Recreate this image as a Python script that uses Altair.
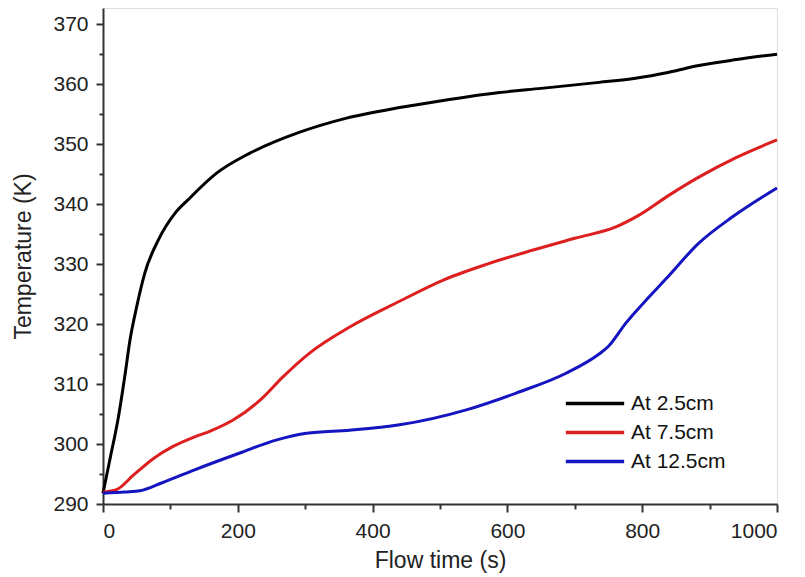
import altair as alt
import pandas as pd

# --- data ---
series_names = ["At 2.5cm", "At 7.5cm", "At 12.5cm"]
series_colors = ["#000000", "#dd1f1f", "#1414c0"]

x_25 = [0, 10, 23, 33, 40, 50, 62, 82, 107, 126, 169, 218, 292, 360, 440, 500, 588, 650, 736, 790, 840, 884, 940, 1000]
y_25 = [291.8, 297.3, 304.6, 311.8, 317.3, 322.9, 328.5, 334.0, 338.5, 340.7, 345.2, 348.5, 352.0, 354.3, 356.1, 357.2, 358.6, 359.3, 360.3, 361.0, 362.0, 363.1, 364.1, 365.0]

x_75 = [0, 20, 45, 75, 104, 136, 160, 193, 233, 267, 307, 366, 440, 504, 570, 637, 700, 761, 796, 840, 884, 940, 1000]
y_75 = [292.0, 292.4, 294.8, 297.6, 299.6, 301.2, 302.2, 304.0, 307.3, 311.2, 315.2, 319.5, 323.8, 327.3, 330.0, 332.3, 334.3, 336.2, 338.2, 341.5, 344.5, 347.8, 350.7]

x_125 = [0, 33, 55, 87, 136, 203, 258, 302, 366, 440, 539, 613, 687, 736, 750, 776, 810, 835, 884, 933, 1000]
y_125 = [291.8, 292.0, 292.2, 293.5, 295.7, 298.5, 300.7, 301.8, 302.3, 303.2, 305.7, 308.5, 311.8, 315.0, 316.3, 320.2, 324.5, 327.5, 333.5, 337.8, 342.7]

x_major = [0, 200, 400, 600, 800, 1000]
x_minor = [100, 300, 500, 700, 900]
y_major = [290, 300, 310, 320, 330, 340, 350, 360, 370]
y_minor = [295, 305, 315, 325, 335, 345, 355, 365]

rows = []
for name, xs, ys in zip(series_names, [x_25, x_75, x_125], [y_25, y_75, y_125]):
    for i, (a, b) in enumerate(zip(xs, ys)):
        rows.append({"series": name, "t": a, "T": b, "order": i})
df = pd.DataFrame(rows)

FONT = "Liberation Sans"
x_scale = alt.Scale(domain=[0, 1000], nice=False, zero=False)
y_scale = alt.Scale(domain=[290, 372.7], nice=False, zero=False)

axis_common = dict(
    domainColor="#333333", domainWidth=2, tickColor="#333333", tickWidth=2,
    labelFont=FONT, labelFontSize=21, labelColor="#222222",
    titleFont=FONT, titleFontSize=23, titleFontWeight="normal", titleColor="#222222",
    grid=False,
)

lines = alt.Chart(df).mark_line(strokeWidth=3, interpolate="monotone").encode(
    x=alt.X("t:Q", scale=x_scale,
            axis=alt.Axis(values=x_major, title="Flow time (s)", tickSize=8, format="d",
                          labelPadding=8, titlePadding=8, orient="bottom", **axis_common)),
    y=alt.Y("T:Q", scale=y_scale,
            axis=alt.Axis(values=y_major, title="Temperature (K)", tickSize=7,
                          labelPadding=8, titlePadding=17, orient="left", **axis_common)),
    color=alt.Color("series:N",
                    scale=alt.Scale(domain=series_names, range=series_colors),
                    legend=alt.Legend(
                        title=None, orient="none", legendX=461, legendY=381,
                        symbolType="stroke", symbolSize=3400, symbolStrokeWidth=3.5,
                        labelFont=FONT, labelFontSize=21, labelColor="#111111",
                        labelOffset=5, rowPadding=0, clipHeight=29, padding=0)),
    order="order:Q",
)

minor_x_df = pd.DataFrame({"t": x_minor})
minor_y_df = pd.DataFrame({"T": y_minor})

minor_x = alt.Chart(minor_x_df).mark_point(opacity=0).encode(
    x=alt.X("t:Q", scale=x_scale,
            axis=alt.Axis(values=x_minor, labels=False, title=None, domain=False, orient="bottom",
                          tickSize=5, tickColor="#333333", tickWidth=2, grid=False)),
)
minor_y = alt.Chart(minor_y_df).mark_point(opacity=0).encode(
    y=alt.Y("T:Q", scale=y_scale,
            axis=alt.Axis(values=y_minor, labels=False, title=None, domain=False, orient="left",
                          tickSize=4, tickColor="#333333", tickWidth=2, grid=False)),
)

chart = alt.layer(lines, minor_x, minor_y).resolve_axis(
    x="independent", y="independent"
).properties(
    width=674, height=496,
    autosize=alt.AutoSizeParams(type="none"),
    padding={"left": 95, "top": 0, "right": 10, "bottom": 70},
).configure_view(stroke=None).configure(background="white")

chart.save("out.html", embed_options={"renderer": "svg", "actions": False})
